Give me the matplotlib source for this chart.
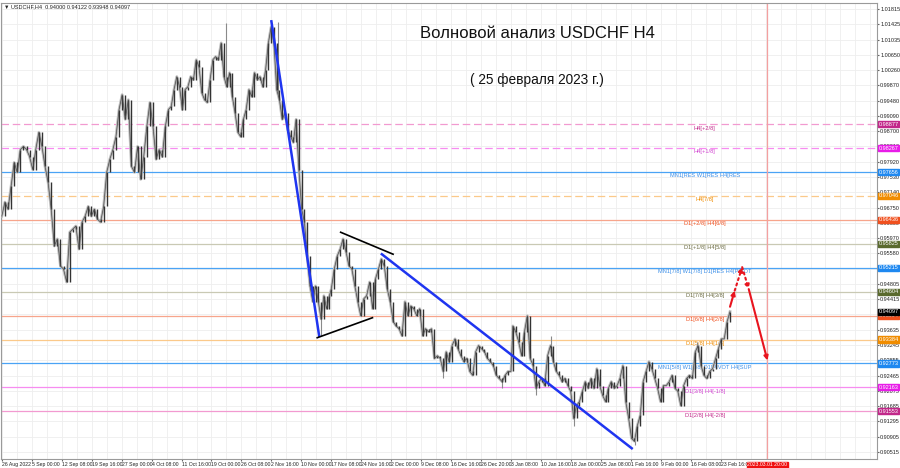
import numpy as np
import matplotlib.pyplot as plt
from matplotlib.transforms import blended_transform_factory

# closes, in four stretches; spans are H4 bar numbers from the first bar
close_aug_oct = [0.9653, 0.9689, 0.9671, 0.9729, 0.9790, 0.9765, 0.9823, 0.9831, 0.9823, 0.9805,
                 0.9772, 0.9823, 0.9867, 0.9831, 0.9780, 0.9739, 0.9671, 0.9577, 0.9595, 0.9526,
                 0.9518, 0.9485, 0.9612, 0.9620, 0.9628, 0.9569, 0.9638, 0.9653, 0.9678, 0.9653,
                 0.9671, 0.9645, 0.9638, 0.9678, 0.9765, 0.9798, 0.9823, 0.9856, 0.9925, 0.9963,
                 0.9900, 0.9950, 0.9780, 0.9765, 0.9831, 0.9747, 0.9805, 0.9882, 0.9943, 0.9882,
                 0.9798, 0.9823, 0.9805, 0.9882, 0.9925]
close_oct_nov = [0.9933, 0.9976, 1.0009, 0.9983, 0.9925, 0.9976, 0.9983, 1.0009, 1.0001, 1.0052,
                 1.0034, 0.9968, 0.9950, 0.9943, 1.0001, 1.0052, 1.0060, 1.0052, 1.0095, 1.0009,
                 0.9983, 1.0019, 0.9958, 0.9917, 0.9867, 0.9856, 0.9900, 0.9925, 0.9976, 0.9958,
                 1.0019, 1.0001, 1.0009, 0.9983, 1.0026, 1.0095, 1.0136, 1.0095, 0.9976, 0.9950,
                 0.9900, 0.9917, 0.9874, 0.9856, 0.9841, 0.9900, 0.9772, 0.9671, 0.9638, 0.9551,
                 0.9475, 0.9435, 0.9475, 0.9435, 0.9391, 0.9450, 0.9417, 0.9450]
close_nov_jan = [0.9467, 0.9518, 0.9551, 0.9569, 0.9595, 0.9562, 0.9526, 0.9518, 0.9475, 0.9435,
                 0.9399, 0.9442, 0.9450, 0.9485, 0.9417, 0.9493, 0.9518, 0.9544, 0.9526, 0.9467,
                 0.9435, 0.9384, 0.9373, 0.9366, 0.9348, 0.9435, 0.9399, 0.9424, 0.9417, 0.9399,
                 0.9417, 0.9348, 0.9366, 0.9358, 0.9366, 0.9290, 0.9297, 0.9290, 0.9257, 0.9307,
                 0.9282, 0.9323, 0.9340, 0.9315, 0.9297, 0.9282, 0.9290, 0.9257, 0.9247, 0.9307,
                 0.9323, 0.9315, 0.9307, 0.9290, 0.9282, 0.9272, 0.9247, 0.9239, 0.9231, 0.9247,
                 0.9257, 0.9257]
close_jan_feb = [0.9373, 0.9358, 0.9333, 0.9297, 0.9358, 0.9399, 0.9290, 0.9272, 0.9214, 0.9231,
                 0.9239, 0.9221, 0.9297, 0.9323, 0.9282, 0.9257, 0.9247, 0.9231, 0.9239, 0.9221,
                 0.9206, 0.9137, 0.9170, 0.9180, 0.9206, 0.9231, 0.9214, 0.9239, 0.9214, 0.9264,
                 0.9221, 0.9196, 0.9180, 0.9214, 0.9231, 0.9214, 0.9221, 0.9239, 0.9272, 0.9180,
                 0.9137, 0.9086, 0.9079, 0.9119, 0.9145, 0.9231, 0.9257, 0.9282, 0.9264, 0.9239,
                 0.9214, 0.9180, 0.9221, 0.9221, 0.9231, 0.9247, 0.9214, 0.9206, 0.9170, 0.9221,
                 0.9239, 0.9247, 0.9239, 0.9307, 0.9323, 0.9272, 0.9247, 0.9239, 0.9257, 0.9264,
                 0.9290, 0.9315, 0.9340, 0.9340, 0.9384, 0.94097]
spans = [(0, 178), (181, 350), (352, 544), (546, 778)]

# long wicks that stick out of the closing line
wick_bars = [240, 295, 341, 471, 534, 571, 587, 611, 676, 743]
wick_prices = [1.0146, 1.0148, 0.9348, 0.9239, 0.9214, 0.9196, 0.9348, 0.9119, 0.9069, 0.9333]

# Murrey levels
level_prices = [0.98877, 0.98267, 0.97656, 0.97046, 0.96436, 0.95825, 0.95215,
                0.94604, 0.93994, 0.93384, 0.92773, 0.92163, 0.91553]
level_names = ["H4[+2/8]", "H4[+1/8]", "MN1[RES W1[RES H4[RES", "H4[7/8]",
               "D1[+2/8] H4[6/8]", "D1[+1/8] H4[5/8]", "MN1[7/8] W1[7/8] D1[RES H4[PIVOT",
               "D1[7/8] H4[3/8]", "D1[6/8] H4[2/8]", "D1[5/8] H4[1/8]",
               "MN1[5/8] W1[5/8] D1[PIVOT H4[SUP", "D1[3/8] H4[-1/8]", "D1[2/8] H4[-2/8]"]
line_colors = ["#f29ad0", "#f78cf0", "#4aa3f5", "#fbc98a", "#f7a58c", "#c9c9b4", "#4aa3f5",
               "#c9c9b4", "#f7a58c", "#fbc98a", "#4aa3f5", "#f78cf0", "#f29ad0"]
box_colors = ["#c2288a", "#e81ce8", "#1e88f0", "#f08c00", "#f0501e", "#5a6a2e", "#1e88f0",
              "#5a6a2e", "#f0501e", "#f08c00", "#1e88f0", "#e81ce8", "#c2288a"]
text_colors = ["#c2288a", "#d040d0", "#3a8ee8", "#f08c00", "#f0501e", "#6a6a40", "#3a8ee8",
               "#6a6a40", "#f0501e", "#f08c00", "#3a8ee8", "#d040d0", "#c2288a"]
line_styles = ["--", "--", "-", "--", "-", "-", "-", "-", "-", "-", "-", "-", "-"]

last_price = 0.94097

y_ticks = [1.01815, 1.01425, 1.01035, 1.00650, 1.00260, 0.99870, 0.99480, 0.99090, 0.98700,
           0.98310, 0.97920, 0.97530, 0.97140, 0.96750, 0.96360, 0.95970, 0.95580, 0.95190,
           0.94805, 0.94415, 0.94025, 0.93635, 0.93245, 0.92855, 0.92465, 0.92075, 0.91685,
           0.91295, 0.90905, 0.90515]

x_labels = ["26 Aug 2022", "5 Sep 00:00", "12 Sep 08:00", "19 Sep 16:00", "27 Sep 00:00",
            "4 Oct 08:00", "11 Oct 16:00", "19 Oct 00:00", "26 Oct 08:00", "2 Nov 16:00",
            "10 Nov 00:00", "17 Nov 08:00", "24 Nov 16:00", "2 Dec 00:00", "9 Dec 08:00",
            "16 Dec 16:00", "26 Dec 20:00", "3 Jan 08:00", "10 Jan 16:00", "18 Jan 00:00",
            "25 Jan 08:00", "1 Feb 16:00", "9 Feb 00:00", "16 Feb 08:00", "23 Feb 16:00"]
label_step = 32  # bars between time labels
end_bar = 818
end_label = "2023.03.01 20:00"

# hand drawn lines (bar, price)
blue_fall = [(288, 1.0150), (339, 0.9348)]
tri_upper = [(362, 0.9612), (418, 0.9556)]
tri_lower = [(337, 0.9343), (396, 0.9394)]
blue_trend = [(406, 0.9556), (673, 0.9061)]
forecast = [(778, 0.9422), (783, 0.9463), (791, 0.9523), (798, 0.9467), (818, 0.9285)]

small = ["Liberation Sans Narrow", "Liberation Sans", "DejaVu Sans"]
fs = 3.7
fs_right = 4.0

# ---- build candles
closes = np.concatenate([close_aug_oct, close_oct_nov, close_nov_jan, close_jan_feb])
bars = np.concatenate([np.linspace(a, b, len(c)) for (a, b), c in
                       zip(spans, [close_aug_oct, close_oct_nov, close_nov_jan, close_jan_feb])])
opens = np.concatenate([[closes[0]], closes[:-1]])

fig = plt.figure(figsize=(9, 4.68), dpi=100)
ax = fig.add_axes([0.001, 0.0192, 0.9734, 0.9744])
ax.set_xlim(-1, 935)
ax.set_ylim(0.90336, 1.01968)

# grid
for t in y_ticks:
    ax.axhline(t, color="#eeeeee", lw=0.6, zorder=0)
for gx in np.arange(0, 935, label_step / 2):
    ax.axvline(gx, color="#eeeeee", lw=0.6, zorder=0)

# levels
for p, c, ls in zip(level_prices, line_colors, line_styles):
    ax.axhline(p, color=c, lw=0.9, ls=ls, dashes=(6, 3) if ls == "--" else (None, None), zorder=1)
for p, name, tc in zip(level_prices, level_names, text_colors):
    ax.annotate(name, xy=(751, p), xytext=(0, -1), textcoords="offset points",
                ha="center", va="top", fontsize=4.1, color=tc, zorder=2, family=small)

ax.axvline(end_bar, color="#f4a0a0", lw=0.9, zorder=1)

# price
ax.plot(bars, closes, color="#bdbdbd", lw=2.0, zorder=3)
ref = np.interp(wick_bars, bars, closes)
ax.vlines(wick_bars, np.minimum(wick_prices, ref), np.maximum(wick_prices, ref),
          color="#8a8a8a", lw=0.8, zorder=3)
ax.vlines(bars, np.minimum(opens, closes), np.maximum(opens, closes), color="#333333", lw=1.0, zorder=4)
ax.plot(bars, closes, color="#4a4a4a", lw=0.5, zorder=4)

# drawn lines
for seg, col, lw in [(blue_fall, "#1f35f0", 1.8), (blue_trend, "#1f35f0", 1.8),
                     (tri_upper, "black", 1.2), (tri_lower, "black", 1.2)]:
    ax.plot([seg[0][0], seg[1][0]], [seg[0][1], seg[1][1]], color=col, lw=lw, zorder=5)

styles = ["-", ":", ":", "-"]
for i, st in enumerate(styles):
    ax.annotate("", xy=forecast[i + 1], xytext=forecast[i],
                arrowprops=dict(arrowstyle="-|>", color="#e8141e", lw=1.5, ls=st,
                                mutation_scale=6, shrinkA=0, shrinkB=0), zorder=6)

# axes look
for s in ax.spines.values():
    s.set_color("#9a9a9a")
    s.set_linewidth(0.8)
ax.yaxis.tick_right()
ax.set_yticks(y_ticks)
ax.set_yticklabels(["%.5f" % t for t in y_ticks], family=small)
ax.tick_params(axis="y", labelsize=fs_right, length=1.5, pad=0.8, color="#666666", labelcolor="#222222")
ax.set_xticks([label_step * k for k in range(len(x_labels))])
ax.set_xticklabels(x_labels, ha="left", family=small)
ax.tick_params(axis="x", labelsize=fs, length=1.5, pad=1, color="#666666", labelcolor="#222222")

trans = blended_transform_factory(ax.transAxes, ax.transData)
for p, bc in zip(level_prices, box_colors):
    ax.text(1.002, p, "%.5f" % p, transform=trans, fontsize=fs_right, color="white", va="center",
            ha="left", bbox=dict(facecolor=bc, edgecolor=bc, pad=0.4), zorder=10, clip_on=False,
            family=small)
ax.text(1.002, last_price, "%.5f" % last_price, transform=trans, fontsize=fs_right, color="white",
        va="center", ha="left", bbox=dict(facecolor="black", edgecolor="black", pad=0.4),
        zorder=11, clip_on=False, family=small)

ax.annotate(end_label, xy=(end_bar, 0), xycoords=("data", "axes fraction"), xytext=(0, -2.2),
            textcoords="offset points", ha="center", va="top", fontsize=fs, color="white",
            bbox=dict(facecolor="#f01010", edgecolor="#f01010", pad=0.4), annotation_clip=False,
            family=small)

ax.text(0.003, 0.997, "\u25bc USDCHF,H4  0.94000 0.94122 0.93948 0.94097", transform=ax.transAxes,
        fontsize=4.0, va="top", ha="left", color="#222222", family=small)

fig.text(0.597, 0.929, "Волновой анализ USDCHF H4", fontsize=12, ha="center",
         va="center", family="Liberation Sans", color="#111111")
fig.text(0.597, 0.829, "( 25 февраля 2023 г.)", fontsize=9.8, ha="center",
         va="center", family="Liberation Sans", color="#111111")

fig.savefig("out.png", dpi=100)
